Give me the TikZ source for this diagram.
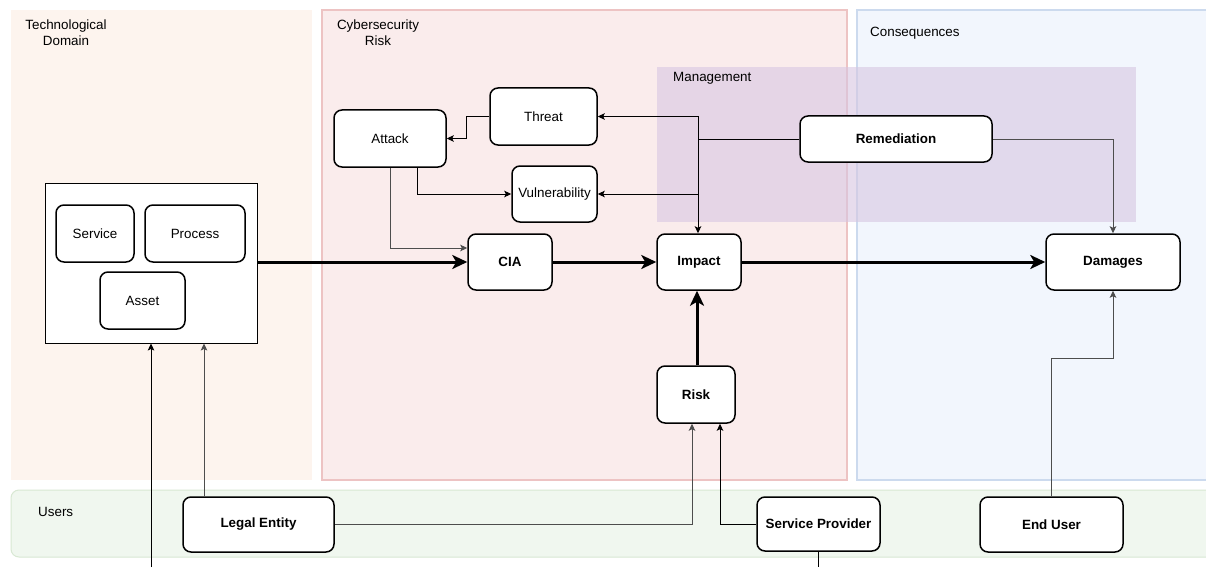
\documentclass[tikz,border=0pt]{standalone}
\usepackage{fontspec}
\setmainfont{Liberation Sans}
\usetikzlibrary{arrows.meta}
\definecolor{techfill}{HTML}{FDF4EE}
\definecolor{riskfill}{HTML}{FAECEC}
\definecolor{riskdraw}{HTML}{EDC3C3}
\definecolor{consfill}{HTML}{F2F6FD}
\definecolor{consdraw}{HTML}{CCDAEE}
\definecolor{userfill}{HTML}{F0F7EF}
\definecolor{userdraw}{HTML}{D8E8D3}
\definecolor{mgmtfill}{HTML}{D7C6E2}
\definecolor{linegray}{HTML}{4D4D4D}
\begin{document}
\begin{tikzpicture}[x=1pt,y=-1pt,
  every node/.style={font=\fontsize{13.4}{16}\selectfont},
  box/.style={draw=black, line width=1.5pt, rounded corners=8pt, fill=white, inner sep=0pt, align=center},
  bbox/.style={box, font=\fontsize{13.4}{16}\selectfont\bfseries},
  thinlink/.style={draw=black, line width=0.9pt, -{Stealth[length=7pt,width=6.5pt,inset=1.5pt]}},
  thinline/.style={draw=black, line width=0.9pt},
  thicklink/.style={draw=black, line width=3pt, -{Stealth[length=15pt,width=14pt,inset=4pt]}},
  thickline/.style={draw=black, line width=3pt},
  lbl/.style={inner sep=0pt, align=center}
]
\useasboundingbox (0,0) rectangle (1206,567);
\fill[white] (0,0) rectangle (1206,567);

% swimlane areas
\fill[techfill] (11,10) rectangle (312,480);
\filldraw[fill=riskfill, draw=riskdraw, line width=1.5pt] (322,10) rectangle (847,480);
\filldraw[fill=consfill, draw=consdraw, line width=1.5pt] (857,10) rectangle (1212,480);
\filldraw[fill=userfill, draw=userdraw, line width=1pt, rounded corners=8pt] (11,490) rectangle (1215,557);
\fill[mgmtfill, opacity=0.6] (657,67) rectangle (1136,222);

\node[lbl] (techlbl) at (66,33) {Technological\\Domain};
\node[lbl] (risklbl) at (378,33) {Cybersecurity\\Risk};
\node[lbl, anchor=west] (conslbl) at (870,33) {Consequences};
\node[lbl, anchor=west] (mgmtlbl) at (673,78) {Management};
\node[lbl, anchor=west] (userlbl) at (38,512) {Users};

% technological domain container
\node[draw=black, line width=0.9pt, fill=white, minimum width=212pt, minimum height=160pt, inner sep=0pt] (tech) at (151,263) {};
\node[box, minimum width=78pt, minimum height=57pt] (service) at (95,233.5) {Service};
\node[box, minimum width=100pt, minimum height=57pt] (process) at (195,233.5) {Process};
\node[box, minimum width=85pt, minimum height=57pt] (asset) at (142.5,300.5) {Asset};

% cybersecurity nodes
\node[box, minimum width=112pt, minimum height=57pt] (attack) at (390,138.5) {Attack};
\node[box, minimum width=107pt, minimum height=57pt] (threat) at (543.5,116.5) {Threat};
\node[box, minimum width=85pt, minimum height=56pt] (vuln) at (554.5,194) {Vulnerability};
\node[bbox, minimum width=84pt, minimum height=56pt] (cia) at (510,262) {CIA};
\node[bbox, minimum width=84pt, minimum height=56pt] (impact) at (699,262) {Impact};
\node[bbox, minimum width=78pt, minimum height=57pt] (risk) at (696,394.5) {Risk};
\node[bbox, minimum width=192pt, minimum height=46pt] (remed) at (896,139) {Remediation};
\node[bbox, minimum width=134pt, minimum height=56pt] (damages) at (1113,262) {Damages};

% users
\node[bbox, minimum width=151pt, minimum height=55pt] (legal) at (258.5,524.5) {Legal Entity};
\node[bbox, minimum width=123pt, minimum height=54pt] (provider) at (818.5,524) {Service Provider};
\node[bbox, minimum width=143pt, minimum height=55pt] (enduser) at (1051.5,524.5) {End User};

\coordinate (assetfeed) at (151,567);
\coordinate (providerout) at (818.5,567);
\coordinate (split) at (698,139);

% thin connectors
\draw[thinlink] (threat.west) -- ++(-23,0) |- (attack.east);
\draw[thinlink] ([xshift=27pt]attack.south) |- (vuln.west);
\draw[thinlink, draw=linegray] (attack.south) |- ([yshift=14pt]cia.west);
\draw[thinline] (remed.west) -- (split);
\draw[thinlink] (split) |- (threat.east);
\draw[thinlink] (split) |- (vuln.east);
\draw[thinlink] (split) -- (split |- impact.north);
\draw[thinlink, draw=linegray] (remed.east) -| (damages.north);
\draw[thinlink, draw=linegray] (enduser.north) -- ++(0,-138) -| (damages.south);
\draw[thinlink, draw=linegray] ([xshift=-54.5pt]legal.north) -- ([xshift=-54.5pt]legal.north |- tech.south);
\draw[thinlink] (assetfeed) -- (assetfeed |- tech.south);
\draw[thinlink, draw=linegray] (legal.east) -| ([xshift=-4pt]risk.south);
\draw[thinlink] (provider.west) -| ([xshift=24pt]risk.south);
\draw[thinline] (provider.south) -- (providerout);

% main flow
\draw[thicklink] (tech.east |- cia.west) -- (cia.west);
\draw[thicklink] (cia.east) -- (impact.west);
\draw[thicklink] (impact.east) -- (damages.west);
\draw[thicklink] ([xshift=1pt]risk.north) -- ([xshift=1pt]risk.north |- impact.south);
\end{tikzpicture}
\end{document}
